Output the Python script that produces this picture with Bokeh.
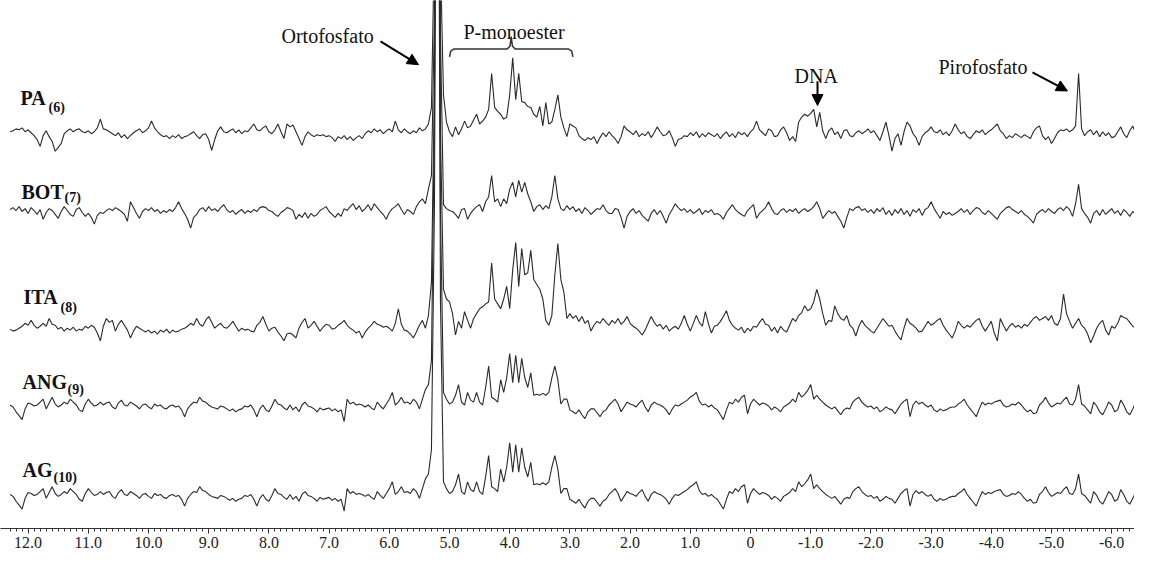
import numpy as np
from bokeh.plotting import figure
from bokeh.models import (Range1d, FixedTicker, CustomJSTickFormatter, Label,
                          Arrow, NormalHead)
from bokeh.embed import file_html
from bokeh.resources import INLINE

# ---------------- data (31P NMR spectra, intensities) -------------
PPM_START = 12.30      # chemical shift of the first point
PPM_STEP = 0.05        # spacing of the points (ppm)

pa = [2,3,5,4,6,2,4,1,-2,-6,-13,-2,3,-3,-8,-18,-14,-10,0,3,
      5,2,4,5,2,1,3,0,2,6,15,5,4,2,0,-2,1,-4,-1,-5,
      -2,1,3,5,1,3,6,13,6,2,-1,-3,-2,-5,-2,-4,-1,-5,-3,-2,
      0,2,-2,-5,-1,0,-6,-17,-6,3,7,2,1,3,5,1,4,0,3,2,
      6,10,4,3,6,8,2,0,4,10,2,-5,10,7,9,2,-5,-12,-3,2,
      -1,-3,-1,-2,-1,-3,-2,-4,-8,-3,-5,-2,-6,-3,-7,-4,-2,-5,0,3,
      1,5,2,4,0,3,5,2,13,4,1,5,2,0,3,1,6,3,5,10,
      27,200,1000,180,40,12,2,-3,7,-1,5,13,6,8,14,20,10,13,17,25,
      62,27,23,20,15,17,40,78,35,62,33,32,28,27,20,17,28,8,32,10,
      12,25,40,17,6,-3,10,8,6,-2,-5,-7,-4,-6,-3,-10,-4,1,-3,2,
      -2,-5,-10,-3,8,4,2,-1,3,-3,0,-2,2,-4,1,7,2,-2,-1,3,
      -4,-13,-6,-5,-2,-3,1,-2,2,-4,0,-3,1,-1,-3,0,-5,-1,2,-3,
      0,-4,2,-1,1,-3,2,5,13,4,1,-2,5,3,-3,-2,4,7,1,-7,
      -3,-8,12,17,20,18,21,25,7,22,3,-5,3,6,-1,2,-5,3,4,-2,
      -3,1,3,0,2,5,1,3,-2,-7,2,12,-2,-18,-5,0,-12,2,12,8,
      0,-4,-12,-3,1,3,7,2,1,4,-1,2,-2,3,10,4,0,2,-3,-5,
      -1,3,1,4,-1,2,4,7,10,3,0,-5,-2,-4,0,-2,-4,-1,-3,-5,
      2,6,8,-2,-6,-3,-10,-5,1,4,3,5,2,4,8,62,5,-2,2,4,
      -1,3,-3,2,-2,1,-4,-3,2,7,0,-4,3,8,0,6,12,-3]

bot = [2,4,1,5,0,3,-2,4,1,-3,2,-8,-1,3,1,-3,-7,0,5,1,
       -3,-5,2,4,-1,-5,-2,-6,-13,-4,-1,-2,1,3,1,4,2,0,-3,-10,
       10,4,-2,-7,0,3,1,4,0,2,-2,1,-1,2,0,4,10,3,-2,-8,
       -17,-6,-3,2,4,0,5,1,3,0,4,7,2,-1,1,-3,0,2,-2,1,
       -1,2,0,4,5,4,1,0,-3,-5,-1,1,4,3,1,-8,-3,-6,-1,-7,
       -2,-5,-3,1,3,5,0,-3,-6,-2,-5,3,1,5,8,2,6,0,3,7,
       1,8,4,0,-3,-8,-1,3,5,8,2,-3,2,0,-3,5,10,13,8,23,
       37,200,1000,180,7,3,1,0,-3,-7,2,3,-8,-2,2,5,7,0,10,15,
       37,10,13,5,13,8,23,30,15,32,20,30,18,10,0,5,7,2,6,3,
       15,37,13,3,1,6,2,5,0,3,-2,4,1,-3,0,3,2,7,1,-2,
       -2,3,2,-6,-17,-5,0,3,-2,1,-4,-7,-10,-2,2,-3,1,-5,-12,-3,
       2,8,4,1,3,-1,2,-2,0,3,-3,1,-1,2,-3,-2,-4,-8,-1,3,
       7,2,-1,-3,-5,1,4,7,-7,-2,1,4,10,3,-2,-3,1,3,-1,2,
       0,3,-2,1,3,0,2,5,10,3,-7,-3,1,-2,0,-5,-10,-17,-6,3,
       1,4,5,1,3,-1,2,-2,3,0,4,-3,1,-4,2,-2,3,-3,1,-5,
       2,-1,3,-4,2,4,10,3,-2,-7,0,-3,-1,-4,-2,0,3,-1,2,-3,
       1,4,3,-1,-3,1,-2,-5,-8,-2,1,4,5,2,0,-2,1,-3,-5,-8,
       -12,-3,0,2,-1,3,0,-2,2,4,1,5,2,-5,8,28,3,-2,-6,-12,
       -2,1,-4,2,-3,0,3,-2,1,-4,2,-1,-5,0,-3,2,-2,1]

ita = [-1,-3,-2,0,2,5,3,8,3,0,2,5,2,10,4,3,-1,1,-3,0,
       -2,1,-3,-1,-2,2,0,3,1,-5,-13,2,10,6,8,-3,4,8,3,-2,
       -10,-3,2,0,-2,-4,-2,-5,-3,-6,-2,-4,-1,-5,-2,-4,-3,-1,0,2,
       5,3,10,4,2,8,12,6,0,3,5,1,0,3,7,2,-3,0,-2,-1,
       -3,-4,3,6,12,4,-3,0,1,-4,-8,-13,-6,-5,-7,-10,0,6,10,0,
       3,7,2,-3,1,4,3,-1,0,3,5,8,3,0,-2,-5,-3,-10,-4,0,
       3,7,4,3,1,2,0,-3,5,20,4,-2,-3,-6,-10,-4,3,8,0,13,
       47,250,1000,200,40,30,27,15,-7,7,0,17,8,0,10,15,20,22,25,27,
       67,30,25,20,30,43,20,60,88,43,82,55,57,80,50,45,40,30,8,3,
       13,55,87,50,37,10,15,10,13,7,12,5,8,-3,3,7,5,10,6,3,
       8,5,10,4,7,12,5,2,0,-3,-7,-2,5,12,6,2,4,-1,3,-3,
       0,2,-1,5,13,4,-3,5,13,6,2,17,5,-5,2,3,7,12,18,8,
       3,0,-2,1,-5,0,-3,2,1,6,10,4,3,-3,1,-5,2,-2,-4,3,
       10,7,13,16,23,18,20,27,40,30,15,3,8,7,23,15,10,8,13,3,
       0,-8,2,8,3,0,-3,-5,0,5,10,6,2,3,-3,-8,-12,0,10,5,
       3,0,-4,-3,2,7,3,5,8,10,3,-2,-6,-10,-3,7,3,0,3,1,
       5,8,10,2,-3,2,7,-5,-13,10,3,-3,2,5,1,3,0,4,2,6,
       10,12,8,10,12,8,13,5,3,10,35,15,7,0,5,10,3,0,-6,-15,
       -8,0,5,8,-2,-7,2,0,5,13,11,10,6,2,0,-5,3,2]

ang = [2,0,-5,-9,-13,-2,4,3,1,2,5,8,-2,4,10,3,0,2,5,3,
       8,5,2,-3,-5,3,8,4,1,2,5,2,4,5,0,-2,4,7,2,1,
       5,3,1,-2,2,3,0,-2,3,1,2,-1,-2,1,2,0,1,-3,-10,-2,
       2,5,4,10,6,5,2,0,-1,-2,1,0,-2,-4,-2,-5,-3,-2,1,0,
       2,-3,-10,-2,2,-3,-5,1,8,3,2,-1,-3,2,-3,0,-5,2,5,1,
       0,-2,-5,-1,-3,-2,-1,-4,-2,-5,-3,-15,8,3,5,2,3,2,0,2,
       -1,-3,5,1,-2,3,8,15,2,5,10,4,5,3,8,5,-2,8,18,23,
       48,300,1000,200,15,8,3,5,12,23,5,2,15,7,5,15,5,2,20,42,
       10,8,5,28,15,30,55,25,53,25,50,30,20,35,12,13,12,14,12,15,
       30,42,28,3,8,8,-3,-5,-7,-3,-8,-12,-5,-2,-2,-6,-10,-5,-3,2,
       5,8,3,-5,0,5,3,2,0,4,7,0,-5,2,5,3,2,0,-3,-8,
       -2,2,1,3,5,7,10,12,15,6,2,3,0,2,-1,-3,-8,-13,-3,5,
       3,8,5,10,12,-7,3,8,5,2,4,3,1,-3,0,-2,-5,0,2,4,
       8,5,15,10,13,17,23,8,12,8,5,2,0,-2,0,-4,-8,-3,-1,-2,
       5,8,10,5,2,0,1,-2,0,-5,-3,0,-2,-3,-7,-2,3,6,8,-10,
       2,6,3,5,2,0,2,-3,-5,-2,-4,-3,-1,0,0,3,5,8,2,-2,
       -6,-10,-2,5,2,4,3,5,6,7,2,0,1,3,2,5,2,-2,-5,-3,
       -7,-6,2,5,10,4,0,2,4,3,7,10,3,2,8,23,3,1,-3,-7,
       5,1,-5,-8,-2,5,2,-5,-3,7,2,-5,-8,-2,5,1,-5,8]

# the AG spectrum in the picture repeats the ANG trace point for point
ag = list(ang)

series = [pa, bot, ita, ang, ag]
names = ["PA", "BOT", "ITA", "ANG", "AG"]
subs = ["(6)", "(7)", "(8)", "(9)", "(10)"]

tick_values = list(range(12, -7, -1))
minor_values = [round(v / 10, 1) for v in range(123, -66, -1)]

# ---------------- layout (reference pixel geometry) ----------------
AXIS_PX = 543.0                      # reference y of the axis line


def X(px):                           # reference x pixel -> ppm
    return (750.0 - px) / 60.2


def Y(py):                           # reference y pixel -> height above axis
    return AXIS_PX - py


offsets = [Y(137), Y(217), Y(337), Y(418), Y(510)]

p = figure(width=1134, height=554, output_backend="svg", toolbar_location=None,
           x_range=Range1d(X(0), X(1134)), y_range=Range1d(0, AXIS_PX),
           y_axis_location=None, min_border_left=0, min_border_right=0,
           min_border_top=0, min_border_bottom=26,
           outline_line_color=None, background_fill_color="white",
           border_fill_color="white")
p.xgrid.visible = False
p.ygrid.visible = False

for vals, off in zip(series, offsets):
    ppm = PPM_START - PPM_STEP * np.arange(len(vals))
    p.line(ppm, off + np.asarray(vals, dtype=float), line_color="#2a2a2a",
           line_width=1.1)

ax = p.xaxis[0]
ax.ticker = FixedTicker(ticks=tick_values, minor_ticks=minor_values)
ax.formatter = CustomJSTickFormatter(
    code="return Math.abs(tick) < 1e-9 ? '0' : tick.toFixed(1);")
ax.axis_line_color = "#333333"
ax.major_tick_line_color = "#333333"
ax.minor_tick_line_color = "#333333"
ax.major_tick_out = 5
ax.major_tick_in = 0
ax.minor_tick_out = 3
ax.minor_tick_in = 0
ax.major_label_standoff = 3
ax.major_label_text_font = "Liberation Serif"
ax.major_label_text_font_size = "16px"
ax.major_label_text_color = "#222222"

SERIF = "Liberation Serif"

# trace names with subscripts
name_pos = [(20, 100), (21, 197), (23, 305), (22, 392), (22, 483)]
sub_pos = [(48, 110), (64, 203), (60, 316), (67, 400), (53, 491)]
for nm, sb, (nx, ny), (sx, sy) in zip(names, subs, name_pos, sub_pos):
    p.add_layout(Label(x=X(nx), y=Y(ny), text=nm, text_font=SERIF,
                       text_font_style="bold", text_font_size="20px",
                       text_color="#111111", text_baseline="alphabetic"))
    p.add_layout(Label(x=X(sx), y=Y(sy), text=sb, text_font=SERIF,
                       text_font_style="bold", text_font_size="14px",
                       text_color="#111111", text_baseline="alphabetic"))

# peak annotations
notes = [("Ortofosfato", 281, 37), ("P-monoester", 463, 32),
         ("DNA", 794, 78), ("Pirofosfato", 938, 68)]
for txt, tx, ty in notes:
    p.add_layout(Label(x=X(tx), y=Y(ty), text=txt, text_font=SERIF,
                       text_font_size="20px", text_color="#111111",
                       text_baseline="alphabetic"))

arrows = [((380, 42), (418, 66)), ((817, 83), (817, 108)),
          ((1032, 74), (1067, 93))]
for (x0, y0), (x1, y1) in arrows:
    p.add_layout(Arrow(end=NormalHead(size=11, fill_color="black",
                                      line_color="black"),
                       x_start=X(x0), y_start=Y(y0), x_end=X(x1), y_end=Y(y1),
                       line_width=2, line_color="black"))

# curly bracket over the P-monoester region
mono_left, mono_right = 5.0, 2.95
mid = (mono_left + mono_right) / 2
by = Y(50)
bx = [mono_left, mono_left - 0.02, mono_left - 0.07, mid + 0.07, mid + 0.02, mid,
      mid - 0.02, mid - 0.07, mono_right + 0.07, mono_right + 0.02, mono_right]
byy = [by - 8, by - 2, by, by, by + 3, by + 13, by + 3, by, by, by - 2, by - 8]
p.line(bx, byy, line_color="#333333", line_width=1.5)

open("out.html", "w").write(file_html(p, INLINE))
